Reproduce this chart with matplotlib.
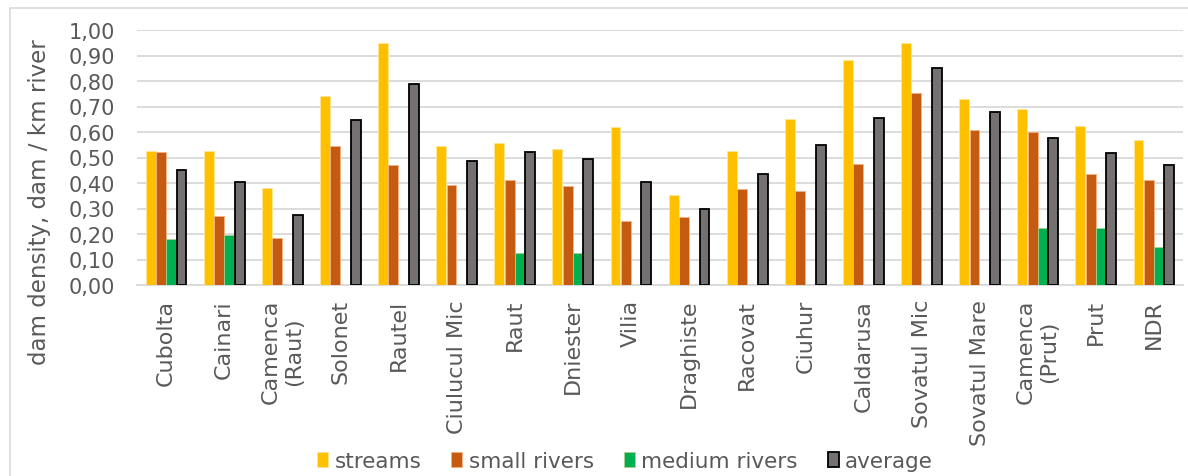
import numpy as np
import matplotlib.pyplot as plt
from matplotlib.patches import Rectangle
from matplotlib.ticker import FuncFormatter, MultipleLocator

rivers = ["Cubolta", "Cainari", "Camenca\n(Raut)", "Solonet", "Rautel", "Ciulucul Mic",
          "Raut", "Dniester", "Vilia", "Draghiste", "Racovat", "Ciuhur", "Caldarusa",
          "Sovatul Mic", "Sovatul Mare", "Camenca\n(Prut)", "Prut", "NDR"]

streams = [0.525, 0.525, 0.38, 0.74, 0.948, 0.546, 0.558, 0.533, 0.618, 0.352,
           0.524, 0.652, 0.882, 0.95, 0.731, 0.689, 0.622, 0.567]
small_rivers = [0.52, 0.27, 0.183, 0.545, 0.47, 0.392, 0.413, 0.388, 0.252, 0.268,
                0.376, 0.37, 0.475, 0.752, 0.607, 0.599, 0.435, 0.41]
medium_rivers = [0.18, 0.195, 0, 0, 0, 0, 0.125, 0.125, 0, 0,
                 0, 0, 0, 0, 0, 0.222, 0.222, 0.15]
average = [0.45, 0.405, 0.275, 0.648, 0.79, 0.486, 0.523, 0.495, 0.403, 0.297,
           0.437, 0.55, 0.655, 0.851, 0.678, 0.575, 0.518, 0.469]

series = [
    ("streams", streams, "#FFC000", "#FFE699"),
    ("small rivers", small_rivers, "#C55A11", "#F4B183"),
    ("medium rivers", medium_rivers, "#00B050", "#A9D18E"),
    ("average", average, "#767171", "black"),
]

txt = "#595959"
W, H = 1188, 477
fig = plt.figure(figsize=(W / 100, H / 100), dpi=100)
ax = fig.add_axes([137 / W, 1 - 286 / H, (1183 - 137) / W, (286 - 31) / H])

x = np.arange(len(rivers))
w = 0.17
step = 0.177
for i, (name, vals, col, edge) in enumerate(series):
    ax.bar(x + (i - 1.5) * step, vals, width=w, color=col, edgecolor=edge,
           linewidth=1.3 if name == "average" else 0.6, label=name, zorder=3)

ax.set_xlim(-0.5, len(rivers) - 0.5)
ax.set_ylim(0, 1.0)
ax.yaxis.set_major_locator(MultipleLocator(0.1))
ax.yaxis.set_major_formatter(FuncFormatter(lambda v, p: f"{v:.2f}".replace(".", ",")))
ax.grid(axis="y", color="#D9D9D9", linewidth=1.3, zorder=0)
for s in ["top", "right", "left"]:
    ax.spines[s].set_visible(False)
ax.spines["bottom"].set_color("#D9D9D9")
ax.spines["bottom"].set_linewidth(1.3)
ax.tick_params(axis="both", length=0, colors=txt)
ax.tick_params(axis="y", labelsize=15, pad=16)
ax.set_xticks(x)
ax.set_xticklabels(rivers, rotation=90, va="top", ha="center", multialignment="center")
ax.tick_params(axis="x", labelsize=16, pad=10)

fig.text(40 / W, 1 - 202 / H, "dam density, dam / km river", rotation=90,
         ha="center", va="center", fontsize=16.5, color=txt)

fig.legend(*ax.get_legend_handles_labels(), loc="center", bbox_to_anchor=(625 / W, 1 - 462 / H),
           ncol=4, frameon=False, fontsize=15.5, labelcolor=txt, handlelength=0.5,
           handleheight=0.65, handletextpad=0.3, columnspacing=1.4)

fig.patches.append(Rectangle((10 / W, -0.1), 1.2, 1 - 9 / H + 0.1, transform=fig.transFigure,
                             fill=False, edgecolor="#D9D9D9", linewidth=1.2))

fig.savefig("out.png", dpi=100)
